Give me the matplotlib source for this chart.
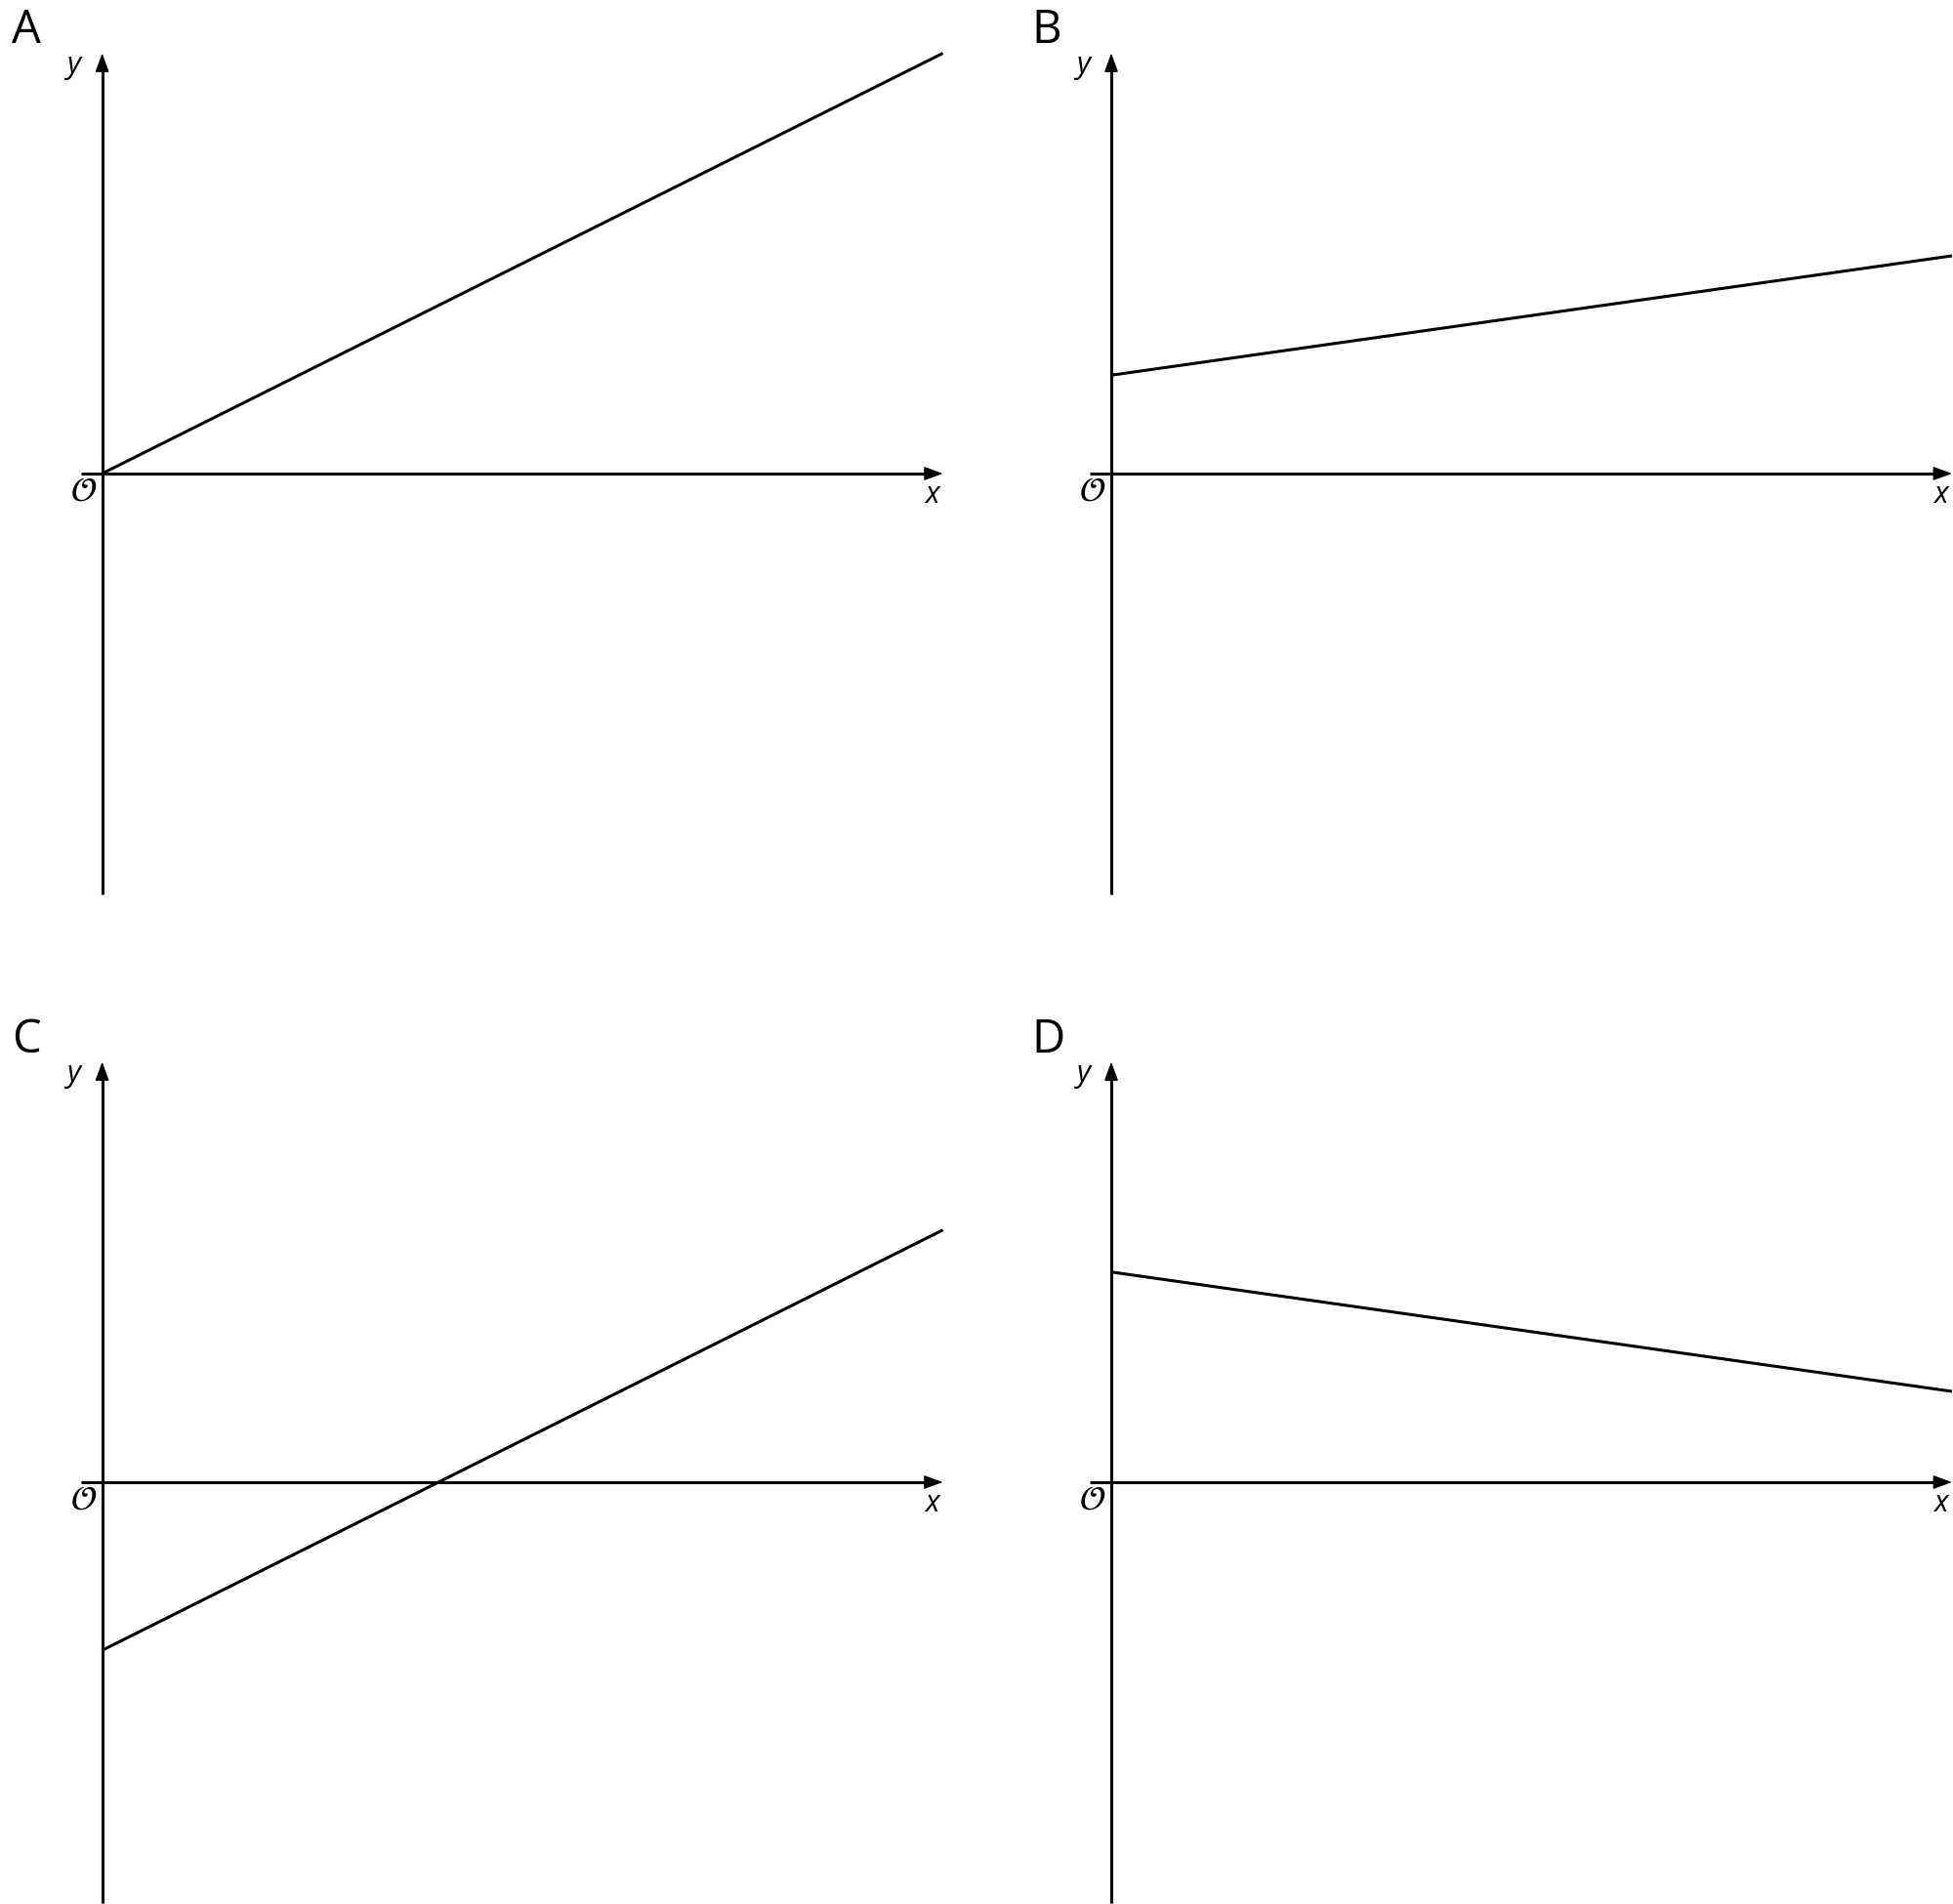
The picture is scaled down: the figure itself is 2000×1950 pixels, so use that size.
import matplotlib
matplotlib.use("Agg")
import matplotlib.pyplot as plt

plt.rcParams['font.family'] = ['Open Sans', 'DejaVu Sans']
plt.rcParams['mathtext.fontset'] = 'stix'

# panel data: line from x=0 to x=10
panels = ['A', 'B', 'C', 'D']
x_start = [0, 0, 0, 0]
x_end = [10, 10, 10, 10]
y_start = [0, 1.17, -2.0, 2.5]
y_end = [5.0, 2.59, 3.0, 1.08]

W, H = 2000, 1950
s = 86.1  # pixels per unit
origins = [(104.6, 485), (1138, 485), (104.6, 1518), (1138, 1518)]
letter_pos = [(12, 8), (1056, 8), (12, 1042), (1056, 1042)]

head = dict(arrowstyle='-|>,head_length=0.6,head_width=0.22', lw=1.0,
            color='black', mutation_scale=20, shrinkA=0, shrinkB=0)

fig = plt.figure(figsize=(W / 100, H / 100), dpi=100)

for i, name in enumerate(panels):
    ox, oy = origins[i]
    left = (ox - 0.25 * s) / W
    bottom = 1 - (oy + 5 * s) / H
    ax = fig.add_axes([left, bottom, 10.25 * s / W, 10 * s / H])
    ax.set_xlim(-0.25, 10)
    ax.set_ylim(-5, 5)
    ax.axis('off')

    # axes lines, arrow heads drawn on top
    ax.plot([-0.25, 9.9], [0, 0], color='black', lw=2.2, clip_on=False,
            solid_capstyle='butt')
    ax.plot([0, 0], [-5, 4.9], color='black', lw=2.2, clip_on=False,
            solid_capstyle='butt')
    ax.annotate('', xy=(10, 0), xytext=(9.8, 0), arrowprops=head,
                annotation_clip=False)
    ax.annotate('', xy=(0, 5), xytext=(0, 4.8), arrowprops=head,
                annotation_clip=False)

    ax.plot([x_start[i], x_end[i]], [y_start[i], y_end[i]], color='black',
            lw=2.2, clip_on=False, solid_capstyle='butt')

    ax.text(-0.33, 4.85, 'y', fontsize=22, style='italic', ha='center', va='center')
    ax.text(9.87, -0.26, 'x', fontsize=22, style='italic', ha='center', va='center')
    ax.text(-0.22, -0.22, r'$\mathcal{O}$', fontsize=25, ha='center', va='center')

    lx, ly = letter_pos[i]
    fig.text(lx / W, 1 - ly / H, name, fontsize=34, ha='left', va='top')

fig.savefig('out.png', dpi=100, facecolor='white')
